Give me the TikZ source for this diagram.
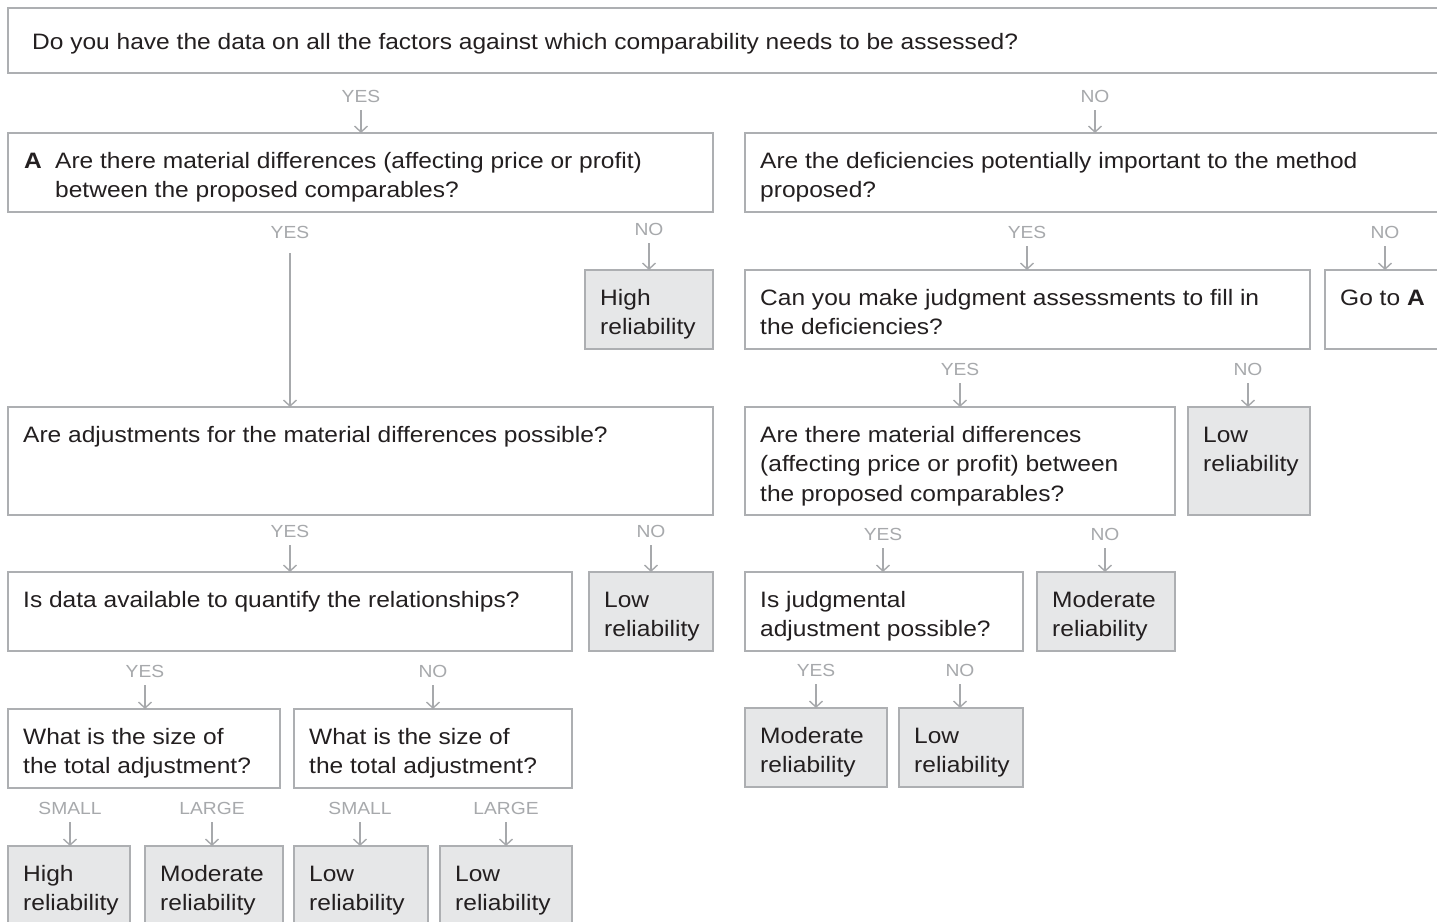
\documentclass[tikz,border=0pt]{standalone}
\usepackage{fontspec}
\setmainfont[FakeStretch=1.1]{Liberation Sans}
\usetikzlibrary{arrows.meta}
\definecolor{txtc}{HTML}{231F20}
\definecolor{linec}{HTML}{ADAFB2}
\definecolor{lblc}{HTML}{A7A9AC}
\definecolor{fillc}{HTML}{E6E7E8}
\newcommand\mybox[6]{\node[#2, anchor=north west, minimum width={#5-#3}, minimum height={#6-#4}] (#1) at (#3,#4) {};}
\newcommand\mytext[3]{\node[txt] (#1) at ([xshift=15pt,yshift=-15pt]#2.north west) {\rule{0pt}{20pt}#3};}
\newcommand\yn[5]{\node[lab] (#1) at (#2,#3) {#4};
  \draw[arr] ([yshift=-8pt]#1.south) -- (#1.south |- #5.north);}
\begin{document}
\begin{tikzpicture}[x=1pt,y=-1pt,
  qbox/.style={draw=linec, line width=1.4pt, fill=white, rectangle, inner sep=0pt, outer sep=0pt},
  rbox/.style={qbox, fill=fillc},
  txt/.style={text=txtc, font=\fontsize{22.3}{29.5}\selectfont, align=left, inner sep=0pt, anchor=north west},
  lab/.style={text=lblc, font=\fontsize{17.5}{20}\selectfont, inner sep=0pt},
  arr/.style={draw=lblc, line width=1.4pt, -{Straight Barb[length=6pt,width=13pt]}}
]
\fill[white] (0,0) rectangle (1437,921);
\useasboundingbox (0,0) rectangle (1437,921);

% boxes
\mybox{q0}{qbox}{8}{8}{1445}{73}
\mybox{qA}{qbox}{8}{133}{713}{212}
\mybox{qR1}{qbox}{745}{133}{1445}{212}
\mybox{rH1}{rbox}{585}{270}{713}{349}
\mybox{qR2}{qbox}{745}{270}{1310}{349}
\mybox{qGo}{qbox}{1325}{270}{1445}{349}
\mybox{qB}{qbox}{8}{407}{713}{515}
\mybox{qR3}{qbox}{745}{407}{1175}{515}
\mybox{rL1}{rbox}{1188}{407}{1310}{515}
\mybox{qC}{qbox}{8}{572}{572}{651}
\mybox{rL2}{rbox}{589}{572}{713}{651}
\mybox{qR4}{qbox}{745}{572}{1023}{651}
\mybox{rM1}{rbox}{1037}{572}{1175}{651}
\mybox{qD1}{qbox}{8}{709}{280}{788}
\mybox{qD2}{qbox}{294}{709}{572}{788}
\mybox{rM2}{rbox}{745}{708}{887}{787}
\mybox{rL3}{rbox}{899}{708}{1023}{787}
\mybox{rH2}{rbox}{8}{846}{130}{935}
\mybox{rM3}{rbox}{145}{846}{283}{935}
\mybox{rL4}{rbox}{294}{846}{428}{935}
\mybox{rL5}{rbox}{440}{846}{572}{935}

% texts
\node[txt] (t0) at ([xshift=24pt,yshift=-21pt]q0.north west) {\rule{0pt}{20pt}Do you have the data on all the factors against which comparability needs to be assessed?};
\node[txt] (tA) at ([xshift=16pt,yshift=-15pt]qA.north west) {\rule{0pt}{20pt}\makebox[31pt][l]{\bfseries A}Are there material differences (affecting price or profit)\\\hspace*{31pt}between the proposed comparables?};
\mytext{tR1}{qR1}{Are the deficiencies potentially important to the method\\proposed?}
\mytext{tH1}{rH1}{High\\reliability}
\mytext{tR2}{qR2}{Can you make judgment assessments to fill in\\the deficiencies?}
\mytext{tGo}{qGo}{Go to \textbf{A}}
\mytext{tB}{qB}{Are adjustments for the material differences possible?}
\mytext{tR3}{qR3}{Are there material differences\\(affecting price or profit) between\\the proposed comparables?}
\mytext{tL1}{rL1}{Low\\reliability}
\mytext{tC}{qC}{Is data available to quantify the relationships?}
\mytext{tL2}{rL2}{Low\\reliability}
\mytext{tR4}{qR4}{Is judgmental\\adjustment possible?}
\mytext{tM1}{rM1}{Moderate\\reliability}
\mytext{tD1}{qD1}{What is the size of\\the total adjustment?}
\mytext{tD2}{qD2}{What is the size of\\the total adjustment?}
\mytext{tM2}{rM2}{Moderate\\reliability}
\mytext{tL3}{rL3}{Low\\reliability}
\mytext{tH2}{rH2}{High\\reliability}
\mytext{tM3}{rM3}{Moderate\\reliability}
\mytext{tL4}{rL4}{Low\\reliability}
\mytext{tL5}{rL5}{Low\\reliability}

% labels and arrows
\yn{y0}{361}{96}{YES}{qA}
\yn{n0}{1095}{96}{NO}{qR1}
\node[lab] (y1) at (290,232) {YES};
\draw[arr] ([yshift=-15pt]y1.south) -- (y1.south |- qB.north);
\yn{n1}{649}{229}{NO}{rH1}
\yn{y2}{1027}{232}{YES}{qR2}
\yn{n2}{1385}{232}{NO}{qGo}
\yn{y3}{960}{369}{YES}{qR3}
\yn{n3}{1248}{369}{NO}{rL1}
\yn{y4}{290}{531}{YES}{qC}
\yn{n4}{651}{531}{NO}{rL2}
\yn{y5}{883}{534}{YES}{qR4}
\yn{n5}{1105}{534}{NO}{rM1}
\yn{y6}{145}{671}{YES}{qD1}
\yn{n6}{433}{671}{NO}{qD2}
\yn{y7}{816}{670}{YES}{rM2}
\yn{n7}{960}{670}{NO}{rL3}
\yn{s1}{70}{808}{SMALL}{rH2}
\yn{l1}{212}{808}{LARGE}{rM3}
\yn{s2}{360}{808}{SMALL}{rL4}
\yn{l2}{506}{808}{LARGE}{rL5}
\end{tikzpicture}
\end{document}
